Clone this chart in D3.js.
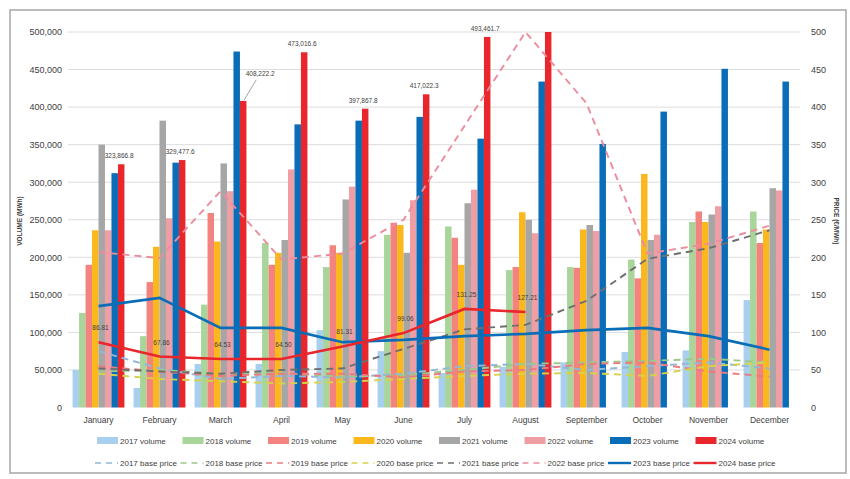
<!DOCTYPE html>
<html>
<head>
<meta charset="utf-8">
<script src="https://cdn.jsdelivr.net/npm/d3@7/dist/d3.min.js"></script>
<style>
  html, body { margin: 0; padding: 0; background: #fff; }
  svg text { font-family: "Liberation Sans", Arial, sans-serif; fill: #404040; }
</style>
</head>
<body>
<svg id="chart" width="850" height="479"></svg>
<script>
// Monthly traded volume (MWh) and base price (€/MWh), 2017–2024
const months = ["January", "February", "March", "April", "May", "June",
  "July", "August", "September", "October", "November", "December"];
const years = ["2017", "2018", "2019", "2020", "2021", "2022", "2023", "2024"];

const volume2017 = [50000, 26000, 58000, 58000, 103000, 75000, 46000, 54000, 60000, 74000, 76000, 143000];
const volume2018 = [126000, 95000, 137000, 219000, 187000, 230000, 241000, 183000, 187000, 197000, 247000, 261000];
const volume2019 = [190000, 167000, 259000, 190000, 216000, 246000, 226000, 187000, 186000, 172000, 261000, 219000];
const volume2020 = [236000, 214000, 221000, 206000, 206000, 243000, 190000, 260000, 237000, 311000, 247000, 237000];
const volume2021 = [350000, 382000, 325000, 223000, 277000, 206000, 272000, 250000, 243000, 223000, 257000, 292000];
const volume2022 = [236000, 252000, 288000, 317000, 294000, 276000, 290000, 232000, 235000, 230000, 268000, 289000];
const volume2023 = [312000, 326000, 474000, 377000, 382000, 387000, 358000, 434000, 351000, 394000, 451000, 434000];
const volume2024 = [323866.8, 329477.6, 408222.2, 473016.6, 397867.8, 417022.3, 493461.7, 500000, null, null, null, null];

const price2017 = [75, 52, 38, 42, 40, 45, 55, 58, 50, 55, 60, 52];
const price2018 = [48, 50, 45, 46, 41, 43, 50, 58, 60, 62, 65, 60];
const price2019 = [55, 48, 42, 45, 45, 40, 48, 50, 58, 60, 48, 41];
const price2020 = [45, 38, 35, 32, 34, 38, 42, 45, 46, 42, 55, 60];
const price2021 = [52, 48, 45, 50, 52, 78, 104, 110, 142, 198, 212, 236];
const price2022 = [207, 199, 288, 197, 205, 250, 375, 500, 405, 205, 218, 242];
const price2023 = [135, 146, 106, 106, 87, 90, 95, 98, 103, 106, 95, 77];
const price2024 = [86.81, 67.86, 64.53, 64.50, 81.31, 99.06, 131.25, 127.21, null, null, null, null];

const volumeTicks = [0, 50000, 100000, 150000, 200000, 250000, 300000, 350000, 400000, 450000, 500000];
const priceTicks = [0, 50, 100, 150, 200, 250, 300, 350, 400, 450, 500];

const volumeSeries = [volume2017, volume2018, volume2019, volume2020, volume2021, volume2022, volume2023, volume2024];
const priceSeries = [price2017, price2018, price2019, price2020, price2021, price2022, price2023, price2024];

const barColors = ["#a9cfee", "#a8d59a", "#f2837e", "#fbb81d", "#a6a6a6", "#ef9ea4", "#0a6db7", "#e8262b"];
const lineColors = ["#93b7d6", "#9cc88c", "#ec7b80", "#d7d24a", "#6f6f6f", "#ec8c9c", "#0a6db7", "#e8262b"];

const svg = d3.select("#chart");
const plotLeft = 68, plotRight = 800, plotTop = 32, plotBottom = 407.5;

// Outer frame
svg.append("rect").attr("x", 10).attr("y", 10).attr("width", 836).attr("height", 463)
  .attr("fill", "none").attr("stroke", "#a6a6a6").attr("stroke-width", 1.5);

const x = d3.scaleBand().domain(months).range([plotLeft, plotRight]).paddingInner(0.15).paddingOuter(0.075);
const xSub = d3.scaleBand().domain(years).range([0, x.bandwidth()]);
const yVol = d3.scaleLinear().domain([0, 500000]).range([plotBottom, plotTop]);
const yPrice = d3.scaleLinear().domain([0, 500]).range([plotBottom, plotTop]);

// Gridlines
svg.append("g").selectAll("line").data(volumeTicks.slice(1)).join("line")
  .attr("x1", plotLeft).attr("x2", plotRight)
  .attr("y1", d => yVol(d)).attr("y2", d => yVol(d))
  .attr("stroke", "#dcdcdc").attr("stroke-width", 1);

// Left axis (volume)
const axisL = svg.append("g").attr("transform", `translate(${plotLeft - 6},0)`)
  .call(d3.axisLeft(yVol).tickValues(volumeTicks).tickFormat(d3.format(",")).tickSize(0).tickPadding(0));
axisL.select(".domain").remove();
axisL.selectAll("text").style("font-size", "9px").attr("fill", "#404040");

// Right axis (price)
const axisR = svg.append("g").attr("transform", `translate(${plotRight + 11},0)`)
  .call(d3.axisRight(yPrice).tickValues(priceTicks).tickSize(0).tickPadding(0));
axisR.select(".domain").remove();
axisR.selectAll("text").style("font-size", "9px").attr("fill", "#404040");

// Month axis
const axisB = svg.append("g").attr("transform", `translate(0,${plotBottom})`)
  .call(d3.axisBottom(x).tickSize(0).tickPadding(9));
axisB.select(".domain").remove();
axisB.selectAll("text").style("font-size", "8.5px").attr("fill", "#404040");

// Axis titles
svg.append("text").attr("transform", "translate(22,221) rotate(-90)")
  .attr("text-anchor", "middle").style("font-size", "6.5px").style("font-weight", "bold")
  .text("VOLUME (MWh)");
svg.append("text").attr("transform", "translate(834,221) rotate(90)")
  .attr("text-anchor", "middle").style("font-size", "6.5px").style("font-weight", "bold")
  .text("PRICE (€/MWh)");

// Clustered volume bars
const groups = svg.append("g").selectAll("g").data(months).join("g")
  .attr("transform", d => `translate(${x(d)},0)`);
groups.selectAll("rect")
  .data((m, i) => years.map((yr, k) => ({ yr, k, v: volumeSeries[k][i] })).filter(d => d.v != null))
  .join("rect")
  .attr("x", d => xSub(d.yr))
  .attr("width", xSub.bandwidth())
  .attr("y", d => yVol(d.v))
  .attr("height", d => plotBottom - yVol(d.v))
  .attr("fill", d => barColors[d.k]);

// Base price lines
const lineGen = d3.line()
  .defined(d => d.v != null)
  .x(d => x(d.m) + x.bandwidth() / 2)
  .y(d => yPrice(d.v));
priceSeries.forEach((series, k) => {
  const solid = k >= 6;
  svg.append("path")
    .datum(months.map((m, i) => ({ m, v: series[i] })))
    .attr("d", lineGen)
    .attr("fill", "none")
    .attr("stroke", lineColors[k])
    .attr("stroke-width", solid ? 2.6 : 1.9)
    .attr("stroke-dasharray", solid ? null : "7,5");
});

// 2024 price labels
const fmtPrice = d3.format(".2f");
svg.append("g").selectAll("text")
  .data(months.map((m, i) => ({ m, v: price2024[i] })).filter(d => d.v != null))
  .join("text")
  .attr("x", d => x(d.m) + x.bandwidth() / 2 + 2)
  .attr("y", d => yPrice(d.v) - 12)
  .attr("text-anchor", "middle")
  .style("font-size", "6.5px").attr("fill", "#262626")
  .text(d => fmtPrice(d.v));

// 2024 volume labels (August bar reaches the axis top and carries no label)
const fmtVol = d3.format(",.1f");
const volLabels = months.map((m, i) => ({ m, i, v: volume2024[i] })).filter(d => d.v != null && d.i < 7);
volLabels.forEach(d => {
  const bx = x(d.m) + xSub("2024") + xSub.bandwidth() / 2;
  const by = yVol(d.v);
  if (d.m === "March") {
    svg.append("line").attr("x1", bx + 1).attr("y1", by - 1).attr("x2", bx + 13).attr("y2", by - 21)
      .attr("stroke", "#8c8c8c").attr("stroke-width", 0.8);
    svg.append("text").attr("x", bx + 17).attr("y", by - 25).attr("text-anchor", "middle")
      .style("font-size", "6.5px").attr("fill", "#262626").text(fmtVol(d.v));
  } else {
    svg.append("text").attr("x", bx - 2).attr("y", by - 6).attr("text-anchor", "middle")
      .style("font-size", "6.5px").attr("fill", "#262626").text(fmtVol(d.v));
  }
});

// Legend
const legendX = i => 120 + i * 85.5;
const leg1 = svg.append("g").selectAll("g").data(years).join("g");
leg1.append("rect").attr("x", (d, i) => legendX(i) - 23).attr("y", 437).attr("width", 21).attr("height", 7)
  .attr("fill", (d, i) => barColors[i]);
leg1.append("text").attr("x", (d, i) => legendX(i)).attr("y", 443.5)
  .style("font-size", "8px").text(d => `${d} volume`);

const leg2 = svg.append("g").selectAll("g").data(years).join("g");
leg2.append("line").attr("x1", (d, i) => legendX(i) - 25).attr("x2", (d, i) => legendX(i) - 2)
  .attr("y1", 463).attr("y2", 463)
  .attr("stroke", (d, i) => lineColors[i])
  .attr("stroke-width", (d, i) => i >= 6 ? 2.4 : 1.6)
  .attr("stroke-dasharray", (d, i) => i >= 6 ? null : "6,5");
leg2.append("text").attr("x", (d, i) => legendX(i)).attr("y", 466)
  .style("font-size", "8px").text(d => `${d} base price`);
</script>
</body>
</html>
